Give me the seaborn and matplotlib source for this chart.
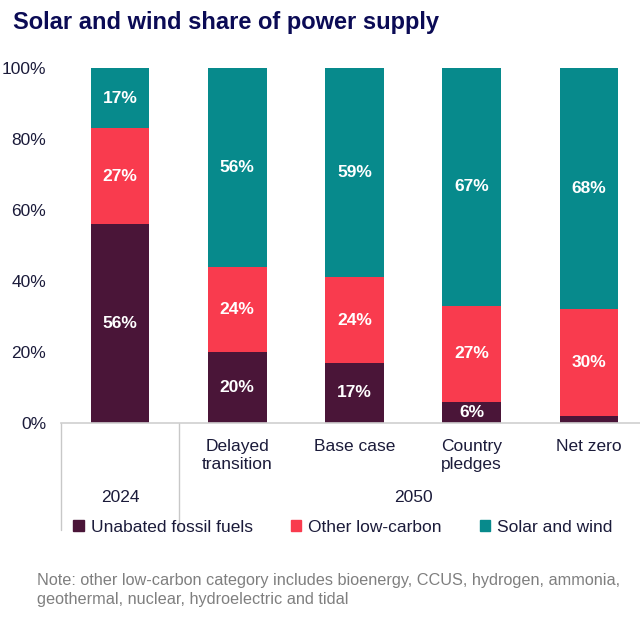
import pandas as pd
import matplotlib.pyplot as plt
import seaborn as sns
from matplotlib.patches import Patch

scenarios = ['2024', 'Delayed\ntransition', 'Base case', 'Country\npledges', 'Net zero']
tick_labels = ['', 'Delayed\ntransition', 'Base case', 'Country\npledges', 'Net zero']
fossil = [56, 20, 17, 6, 2]
other_low_carbon = [27, 24, 24, 27, 30]
solar_wind = [17, 56, 59, 67, 68]
groups = ['2024', '2050']

c_fossil = '#4a1538'
c_other = '#f93b4e'
c_solar = '#078a8c'
c_text = '#1b1b3a'

df = pd.DataFrame({'scenario': scenarios, 'fossil': fossil,
                   'other': other_low_carbon, 'solar': solar_wind})
df['cum_other'] = df['fossil'] + df['other']
df['cum_solar'] = df['cum_other'] + df['solar']

sns.set_style('white')
plt.rcParams['font.family'] = ['Liberation Sans', 'DejaVu Sans']

fig = plt.figure(figsize=(6.4, 6.24), dpi=100)
ax = fig.add_axes([61.4 / 640, (624 - 423) / 624, 586 / 640, 355 / 624])

# stacked bars drawn as cumulative layers, tallest first
sns.barplot(data=df, x='scenario', y='cum_solar', color=c_solar, width=0.5,
            saturation=1, linewidth=0, ax=ax)
sns.barplot(data=df, x='scenario', y='cum_other', color=c_other, width=0.5,
            saturation=1, linewidth=0, ax=ax)
sns.barplot(data=df, x='scenario', y='fossil', color=c_fossil, width=0.5,
            saturation=1, linewidth=0, ax=ax)

# segment labels
for i, row in df.iterrows():
    segs = [(0, row['fossil']), (row['fossil'], row['other']), (row['cum_other'], row['solar'])]
    for bottom, val in segs:
        if val >= 5:
            ax.text(i, bottom + val / 2, f'{val}%', ha='center', va='center',
                    color='white', fontsize=12.5, fontweight='bold')

ax.set_xlim(-0.5, 4.5)
ax.set_ylim(0, 100)
ax.set_yticks(range(0, 101, 20))
ax.set_yticklabels([f'{v}%' for v in range(0, 101, 20)], fontsize=12.5, color=c_text)
ax.tick_params(axis='y', length=0, pad=11)
ax.set_xticks(range(len(scenarios)))
ax.set_xticklabels([])
ax.tick_params(axis='x', length=0)
ax.set_xlabel('')
ax.set_ylabel('')
for s in ['left', 'right', 'top']:
    ax.spines[s].set_visible(False)
ax.spines['bottom'].set_color('#d0d0d0')
ax.spines['bottom'].set_linewidth(1.2)

for i, lab in enumerate(tick_labels):
    ax.text(i, -4.5, lab, ha='center', va='top', fontsize=12.5, color=c_text,
            linespacing=1.25)

# group separators and labels
for x in [-0.5, 0.5]:
    ax.plot([x, x], [0, -30], color='#c8c8c8', lw=1, clip_on=False)
ax.text(0, -21, groups[0], ha='center', va='center', fontsize=12.5, color=c_text)
ax.text(2.5, -21, groups[1], ha='center', va='center', fontsize=12.5, color=c_text)

fig.text(13 / 640, 1 - 22 / 624, 'Solar and wind share of power supply',
         fontsize=17, fontweight='bold', color='#0b0b55', va='center')

handles = [Patch(color=c_fossil), Patch(color=c_other), Patch(color=c_solar)]
fig.legend(handles, ['Unabated fossil fuels', 'Other low-carbon', 'Solar and wind'],
           loc='center', bbox_to_anchor=(343 / 640, 1 - 527 / 624), ncol=3,
           frameon=False, fontsize=12.5, handlelength=0.6, handleheight=0.6,
           handletextpad=0.4, columnspacing=2.2, labelcolor=c_text)

fig.text(37 / 640, 1 - 590 / 624,
         'Note: other low-carbon category includes bioenergy, CCUS, hydrogen, ammonia,\n'
         'geothermal, nuclear, hydroelectric and tidal',
         fontsize=11.7, color='#7f7f7f', va='center', linespacing=1.3)

fig.savefig('out.png', dpi=100)
